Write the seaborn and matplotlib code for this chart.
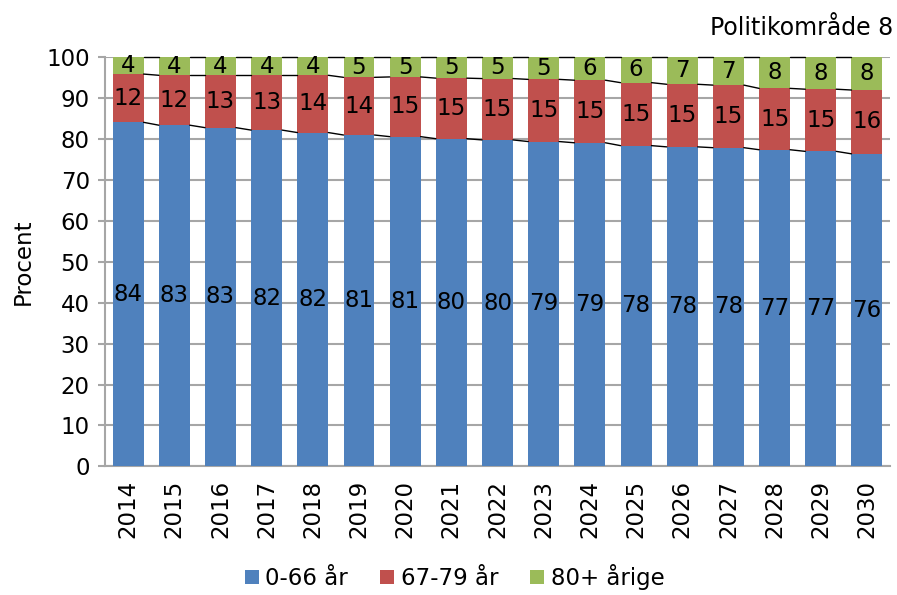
import numpy as np
import pandas as pd
import matplotlib
matplotlib.use("Agg")
import matplotlib.pyplot as plt
import seaborn as sns
from matplotlib.patches import Patch

years = ["2014", "2015", "2016", "2017", "2018", "2019", "2020", "2021", "2022",
         "2023", "2024", "2025", "2026", "2027", "2028", "2029", "2030"]
age_0_66 = [84.1, 83.4, 82.8, 82.2, 81.6, 81.0, 80.6, 80.1, 79.8,
            79.4, 79.1, 78.4, 78.1, 77.9, 77.4, 77.0, 76.4]
age_67_79 = [11.8, 12.2, 12.8, 13.4, 14.0, 14.1, 14.6, 14.8, 15.0,
             15.2, 15.3, 15.4, 15.3, 15.3, 15.0, 15.2, 15.6]
age_80 = [4.1, 4.4, 4.4, 4.4, 4.4, 4.9, 4.8, 5.1, 5.2,
          5.4, 5.6, 6.2, 6.6, 6.8, 7.6, 7.8, 8.0]
series_names = ["0-66 år", "67-79 år", "80+ årige"]
colors = ["#4F81BD", "#C0504D", "#9BBB59"]

sns.set_theme(style="white")
plt.rcParams['font.family'] = ['DejaVu Sans']
plt.rcParams['text.color'] = 'black'
plt.rcParams['axes.labelcolor'] = 'black'
plt.rcParams['xtick.color'] = 'black'
plt.rcParams['ytick.color'] = 'black'
FS = 16.5
GRID = "#A6A6A6"

b = np.array(age_0_66)
r = np.array(age_67_79)
g = np.array(age_80)
c1 = b
c2 = b + r
c3 = b + r + g
df = pd.DataFrame({"year": years, "c1": c1, "c2": c2, "c3": c3})

fig = plt.figure(figsize=(8.97, 5.95), dpi=100)
ax = fig.add_axes([0.1171, 0.2163, 0.9922 - 0.1171, 0.9037 - 0.2163])

W = 0.67
for col, colr in zip(["c3", "c2", "c1"], colors[::-1]):
    sns.barplot(data=df, x="year", y=col, color=colr, width=W, saturation=1,
                edgecolor="none", linewidth=0, ax=ax, zorder=3)

# series lines
xs = np.arange(len(years))
for cum in (c1, c2, c3):
    for i in range(len(years) - 1):
        ax.plot([xs[i] + W / 2, xs[i + 1] - W / 2], [cum[i], cum[i + 1]],
                color="black", lw=1.0, zorder=4, clip_on=False)

# labels
for i in range(len(years)):
    bottoms = [0, c1[i], c2[i]]
    for val, bot in zip([b[i], r[i], g[i]], bottoms):
        ax.text(xs[i], bot + val / 2, f"{val:.0f}", ha="center", va="center",
                fontsize=FS, color="black", zorder=5)

ax.set_ylim(0, 100)
ax.set_xlim(-0.5, len(years) - 0.5)
ax.set_yticks(range(0, 101, 10))
ax.yaxis.grid(True, color=GRID, lw=1.5, zorder=0)
ax.set_axisbelow(True)
for s in ["top", "right"]:
    ax.spines[s].set_visible(False)
for s in ["left", "bottom"]:
    ax.spines[s].set_color(GRID)
    ax.spines[s].set_linewidth(1.5)
ax.tick_params(axis="y", length=5, width=1.5, color=GRID, labelcolor="black",
               labelsize=FS, pad=6, left=True)
ax.tick_params(axis="x", length=0, labelsize=FS, labelcolor="black", rotation=90, pad=10)
ax.set_xlabel("")
ax.set_ylabel("Procent", fontsize=FS, labelpad=8, color="black")

fig.text(0.9955, 0.953, "Politikområde 8", ha="right", va="center", fontsize=17,
         color="black")

handles = [Patch(facecolor=c, edgecolor="none") for c in colors]
fig.legend(handles, series_names, loc="center", bbox_to_anchor=(0.507, 0.030),
           ncol=3, frameon=False, fontsize=FS, handlelength=0.6, handleheight=0.6,
           handletextpad=0.3, columnspacing=1.4, labelcolor="black",
           borderpad=0.1)

fig.savefig("out.png", dpi=100)
